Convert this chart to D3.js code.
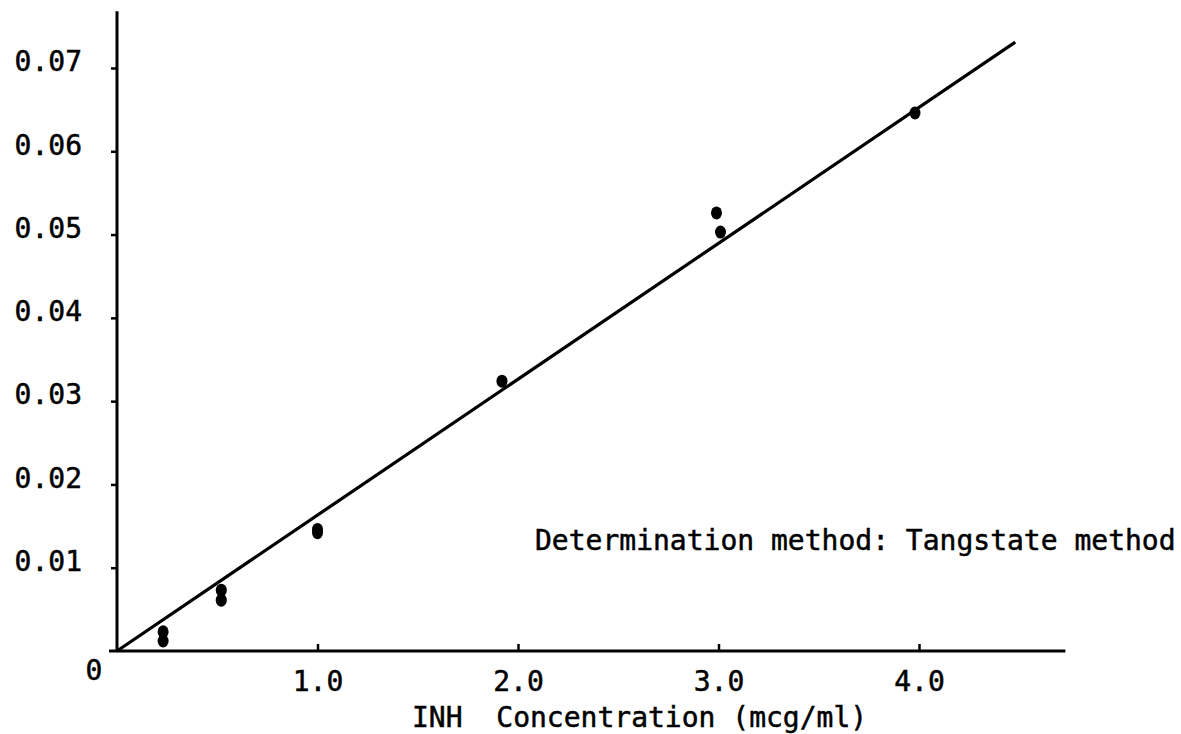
<!DOCTYPE html>
<html lang="en">
<head>
<meta charset="utf-8">
<title>INH calibration</title>
<script src="https://d3js.org/d3.v7.min.js"></script>
<style>
  body { margin: 0; background: #fff; }
  text { font-family: "DejaVu Sans Mono", "Liberation Mono", monospace; fill: #000; stroke: #000; stroke-width: 0.5px; }
</style>
</head>
<body>
<div id="my_dataviz"></div>
<script>
// INH concentration (mcg/ml) and measured values
var concX = [0.23, 0.23, 0.52, 0.52, 1.0, 1.0, 1.92, 2.99, 3.01, 3.98]
var valueY = [0.0023, 0.0012, 0.0073, 0.0061, 0.0146, 0.0142, 0.0324, 0.0526, 0.0503, 0.0646]
// fitted straight line, drawn from the origin
var lineX = [0, 4.48]
var lineY = [0, 0.0731]
var xTicks = [1, 2, 3, 4]
var yTicks = [0.01, 0.02, 0.03, 0.04, 0.05, 0.06, 0.07]
var xTitle = "INH  Concentration (mcg/ml)"
var note = "Determination method: Tangstate method"

var width = 1181
height = 734

var svg = d3.select("#my_dataviz")
    .append("svg")
    .attr("width", width)
    .attr("height", height)

var x = d3.scaleLinear().domain([0, 4]).range([117, 919])
var y = d3.scaleLinear().domain([0, 0.07]).range([651, 68])

var ink = "#000"

// axes lines (drawn long, like the hand made original)
svg.append("line")
    .attr("x1", x(0)).attr("x2", x(0))
    .attr("y1", y(0)).attr("y2", y(0.0768))
    .attr("stroke", ink).attr("stroke-width", 3)
svg.append("line")
    .attr("x1", x(0) - 8).attr("x2", x(4.73))
    .attr("y1", y(0)).attr("y2", y(0))
    .attr("stroke", ink).attr("stroke-width", 3)

var xAxis = svg.append("g")
    .attr("transform", "translate(0," + y(0) + ")")
    .call(d3.axisBottom(x).tickValues(xTicks).tickSize(-7).tickPadding(20)
        .tickFormat(d3.format(".1f")))
xAxis.select(".domain").remove()
xAxis.selectAll("line").attr("stroke", ink).attr("stroke-width", 2.5)
xAxis.selectAll("text").style("font-size", "28px").attr("fill", ink)

var yAxis = svg.append("g")
    .attr("transform", "translate(" + x(0) + ",0)")
    .call(d3.axisLeft(y).tickValues(yTicks).tickSize(6).tickPadding(29)
        .tickFormat(d3.format(".2f")))
yAxis.select(".domain").remove()
yAxis.selectAll("line").attr("stroke", ink).attr("stroke-width", 2.5)
yAxis.selectAll("text").style("font-size", "28px").attr("fill", ink)
    .attr("dy", "0.1em")

// zero label at the origin
svg.append("text")
    .attr("x", x(0) - 23).attr("y", y(0) + 29)
    .style("font-size", "28px")
    .attr("text-anchor", "middle")
    .text("0")

// fitted line
var lineData = lineX.map(function(d, i) { return [d, lineY[i]] })
svg.append("path")
    .datum(lineData)
    .attr("d", d3.line().x(function(d) { return x(d[0]) }).y(function(d) { return y(d[1]) }))
    .attr("fill", "none")
    .attr("stroke", ink)
    .attr("stroke-width", 3.2)

// points
svg.selectAll("myDots")
    .data(concX)
    .enter()
    .append("ellipse")
    .attr("cx", function(d) { return x(d) })
    .attr("cy", function(d, i) { return y(valueY[i]) })
    .attr("rx", 5.5)
    .attr("ry", 6.5)
    .attr("fill", ink)

// axis title
svg.append("text")
    .attr("x", 412).attr("y", 727)
    .style("font-size", "28px")
    .style("white-space", "pre")
    .text(xTitle)

// method note
svg.append("text")
    .attr("x", 535).attr("y", 550)
    .style("font-size", "28px")
    .text(note)
</script>
</body>
</html>
